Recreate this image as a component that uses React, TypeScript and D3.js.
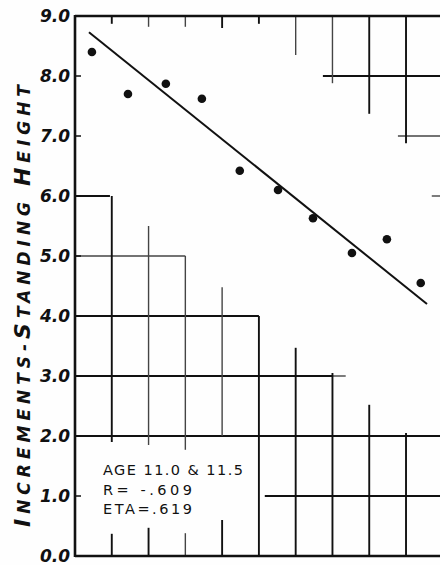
import React from "react";
import * as d3 from "d3";

// ---- Data ----
const pointX = [0.46, 1.44, 2.47, 3.45, 4.48, 5.52, 6.47, 7.53, 8.48, 9.4];
const pointY = [8.4, 7.7, 7.87, 7.62, 6.42, 6.1, 5.63, 5.05, 5.28, 4.55];
const fitX = [0.38, 9.57];
const fitY = [8.73, 4.2];
const yTicks = [0, 1, 2, 3, 4, 5, 6, 7, 8, 9];
const yTickLabels = ["0.0", "1.0", "2.0", "3.0", "4.0", "5.0", "6.0", "7.0", "8.0", "9.0"];
const noteLines = ["AGE 11.0 & 11.5", "R= -.609", "ETA=.619"];
const titleParts = [
  { t: "I", big: true },
  { t: "NCREMENTS", big: false },
  { t: "-", big: false },
  { t: "S", big: true },
  { t: "TANDING ", big: false },
  { t: "H", big: true },
  { t: "EIGHT", big: false },
];
// paper grid fragments visible in the scan: horizontal [y, x0, x1, faint]
const hSegs: [number, number, number, number][] = [
  [8, 6.74, 10, 0],
  [7, 8.78, 10, 1],
  [6, 0, 0.95, 0],
  [6, 9.7, 10, 1],
  [5, 0, 3, 1],
  [4, 0, 5, 0],
  [3, 0, 7, 0],
  [3, 7, 7.36, 1],
  [2, 0, 10, 0],
  [1, 5.16, 10, 0],
];
// vertical [x, y0, y1, faint]
const vSegs: [number, number, number, number][] = [
  [1, 6.0, 1.9, 0],
  [1, 0, 0.37, 0],
  [2, 5.5, 1.85, 1],
  [2, 0, 0.47, 0],
  [3, 5.0, 1.77, 1],
  [3, 0, 0.38, 1],
  [4, 4.48, 2.0, 1],
  [4, 0, 0.6, 0],
  [5, 4.0, 0, 0],
  [6, 3.47, 0, 0],
  [7, 3.05, 0, 0],
  [8, 2.52, 0, 0],
  [9, 2.05, 0, 0],
  [1, 9, 8.87, 0],
  [2, 9, 8.82, 1],
  [3, 9, 8.82, 1],
  [4, 9, 8.8, 0],
  [5, 9, 8.87, 0],
  [6, 9, 8.35, 1],
  [7, 9, 7.88, 1],
  [8, 9, 7.37, 0],
  [9, 9, 6.88, 0],
];

const W = 440;
const H = 565;

export default function App() {
  const x = d3.scaleLinear().domain([0, 10]).range([75, 442.8]);
  const y = d3.scaleLinear().domain([0, 9]).range([556, 16]);
  const line = d3
    .line<number>()
    .x((d) => x(fitX[d]))
    .y((d) => y(fitY[d]));
  const ink = "#111";
  const faint = "#444";

  return (
    <svg
      width={W}
      height={H}
      style={{ position: "absolute", left: 0, top: 0, background: "#fff" }}
      fontFamily="DejaVu Sans, sans-serif"
    >
      <rect x={0} y={0} width={W} height={H} fill="#fefefe" />
      {/* grid fragments */}
      {hSegs.map(([yv, x0, x1, f], i) => (
        <line
          key={"h" + i}
          x1={x(x0)}
          x2={x(x1)}
          y1={y(yv)}
          y2={y(yv)}
          stroke={f ? faint : ink}
          strokeWidth={f ? 1.4 : 1.9}
        />
      ))}
      {vSegs.map(([xv, y0, y1, f], i) => (
        <line
          key={"v" + i}
          x1={x(xv)}
          x2={x(xv)}
          y1={y(y0)}
          y2={y(y1)}
          stroke={f ? faint : ink}
          strokeWidth={f ? 1.4 : 1.9}
        />
      ))}
      {/* frame: top, left, bottom */}
      <line x1={x(0)} x2={x(10)} y1={y(9)} y2={y(9)} stroke={ink} strokeWidth={2.6} />
      <line x1={x(0)} x2={x(10)} y1={y(0)} y2={y(0)} stroke={ink} strokeWidth={2.4} />
      <line x1={x(0)} x2={x(0)} y1={y(9) - 1} y2={y(0) + 1} stroke={ink} strokeWidth={2.6} />
      {/* y ticks and labels */}
      {yTicks.map((v, i) => (
        <g key={"t" + i}>
          <line x1={x(0)} x2={x(0) + 6} y1={y(v)} y2={y(v)} stroke={ink} strokeWidth={1.5} />
          <text
            x={70}
            y={y(v)}
            dy="0.36em"
            textAnchor="end"
            fontSize={17}
            fontWeight="bold"
            fontStyle="italic"
            fill={ink}
          >
            {yTickLabels[i]}
          </text>
        </g>
      ))}
      {/* regression line */}
      <path d={line([0, 1]) || ""} fill="none" stroke={ink} strokeWidth={2} />
      {/* points */}
      {pointX.map((px, i) => (
        <circle key={"p" + i} cx={x(px)} cy={y(pointY[i])} r={4.3} fill={ink} />
      ))}
      {/* annotation */}
      {noteLines.map((s, i) => (
        <text
          key={"n" + i}
          x={103}
          y={475 + i * 19.5}
          fontSize={14.5}
          fill={ink}
          textLength={i === 0 ? 140 : 89}
          lengthAdjust="spacing"
        >
          {s}
        </text>
      ))}
      {/* y-axis title */}
      <text
        transform="translate(30,306) rotate(-90)"
        textAnchor="middle"
        fontWeight="bold"
        fontStyle="italic"
        fill={ink}
        textLength={442}
        lengthAdjust="spacing"
      >
        {titleParts.map((p, i) => (
          <tspan key={i} fontSize={p.big ? 22 : 17}>
            {p.t}
          </tspan>
        ))}
      </text>
    </svg>
  );
}
